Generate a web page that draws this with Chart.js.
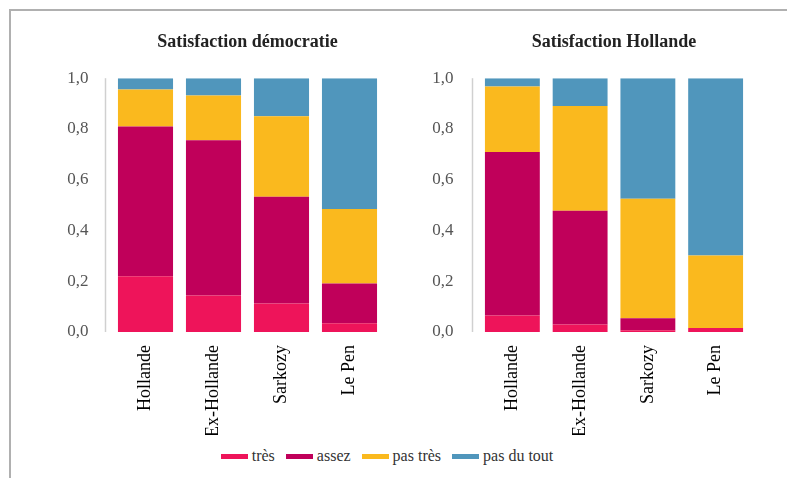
<!DOCTYPE html>
<html>
<head>
<meta charset="utf-8">
<script src="https://cdn.jsdelivr.net/npm/chart.js@4"></script>
<style>
    body { margin: 0; background: #fff; width: 787px; height: 478px; overflow: hidden; position: relative; }
    .frame { position: absolute; left: 9px; top: 9px; width: 790px; height: 480px; border-top: 2px solid #b0b0b0; border-left: 2px solid #b0b0b0; }
    #chartDemo { position: absolute; left: 10px; top: 10px; }
    #chartHollande { position: absolute; left: 395px; top: 10px; }
    .legend { position: absolute; top: 447px; left: 0; width: 774px; display: flex; justify-content: center; gap: 11px;
              font-family: 'Liberation Serif', serif; font-size: 16px; color: #333; }
    .legend span { display: flex; align-items: center; }
    .legend i { display: inline-block; width: 27px; height: 5px; margin-right: 4px; }
</style>
</head>
<body>
<div class="frame"></div>
<canvas id="chartDemo" width="385" height="425"></canvas>
<canvas id="chartHollande" width="392" height="425"></canvas>
<div class="legend" id="legend"></div>

<script>
// Satisfaction charts: stacked shares per electorate

const categories = ['Hollande', 'Ex-Hollande', 'Sarkozy', 'Le Pen'];
const seriesNames = ['très', 'assez', 'pas très', 'pas du tout'];
const seriesColors = ['#EE145A', '#C0005A', '#FAB91E', '#5096BC'];
const yTicks = [0, 0.2, 0.4, 0.6, 0.8, 1.0];

// Satisfaction démocratie
const demoTres = [0.22, 0.144, 0.112, 0.034];
const demoAssez = [0.59, 0.612, 0.421, 0.157];
const demoPasTres = [0.145, 0.176, 0.317, 0.294];
const demoPasDuTout = [0.045, 0.068, 0.15, 0.515];

// Satisfaction Hollande
const hollTres = [0.065, 0.03, 0.007, 0.016];
const hollAssez = [0.644, 0.448, 0.047, 0];
const hollPasTres = [0.258, 0.412, 0.471, 0.285];
const hollPasDuTout = [0.033, 0.11, 0.475, 0.699];

const serif = "'Liberation Serif', 'DejaVu Serif', serif";

// light grey y axis line, a few px left of the first bar
const axisLine = {
    id: 'axisLine',
    afterDraw(chart) {
        const ctx = chart.ctx;
        const a = chart.chartArea;
        ctx.save();
        ctx.strokeStyle = '#d0d0d0';
        ctx.lineWidth = 1.5;
        ctx.beginPath();
        ctx.moveTo(a.left - 6, a.top);
        ctx.lineTo(a.left - 6, a.bottom);
        ctx.stroke();
        ctx.restore();
    }
};

function makeChart(id, title, series, yWidth, padRight, tickPad) {
    const ctx = document.getElementById(id).getContext('2d');
    return new Chart(ctx, {
        type: 'bar',
        data: {
            labels: categories,
            datasets: series.map((s, i) => ({
                label: seriesNames[i],
                data: s,
                backgroundColor: seriesColors[i],
                borderWidth: 0,
                barPercentage: 1,
                categoryPercentage: 0.81
            }))
        },
        options: {
            responsive: false,
            animation: false,
            layout: { padding: { left: 0, right: padRight, top: 0, bottom: 0 } },
            plugins: {
                legend: { display: false },
                tooltip: { enabled: false },
                title: {
                    display: true,
                    text: title,
                    fullSize: false,
                    color: '#222',
                    font: { family: serif, size: 18, weight: 'bold' },
                    padding: { top: 22, bottom: 24.6 }
                }
            },
            scales: {
                x: {
                    stacked: true,
                    grid: { display: false },
                    border: { display: false },
                    ticks: {
                        color: '#000',
                        font: { family: serif, size: 18 },
                        minRotation: 90,
                        maxRotation: 90,
                        padding: 5
                    },
                    afterFit(s) { s.height = 103; }
                },
                y: {
                    stacked: true,
                    min: 0,
                    max: 1,
                    grid: { display: false },
                    border: { display: false },
                    afterBuildTicks(s) { s.ticks = yTicks.map(v => ({ value: v })); },
                    ticks: {
                        color: '#555',
                        font: { family: serif, size: 17 },
                        padding: tickPad,
                        callback: v => v.toFixed(1).replace('.', ',')
                    },
                    afterFit(s) { s.width = yWidth; }
                }
            }
        },
        plugins: [axisLine]
    });
}

makeChart('chartDemo', 'Satisfaction démocratie',
    [demoTres, demoAssez, demoPasTres, demoPasDuTout], 101.5, 11.5, 15);
makeChart('chartHollande', 'Satisfaction Hollande',
    [hollTres, hollAssez, hollPasTres, hollPasDuTout], 83.5, 37.5, 17);

// shared legend under both charts
const legend = document.getElementById('legend');
seriesNames.forEach((name, i) => {
    const item = document.createElement('span');
    item.innerHTML = '<i style="background:' + seriesColors[i] + '"></i>' + name;
    legend.appendChild(item);
});
</script>
</body>
</html>
